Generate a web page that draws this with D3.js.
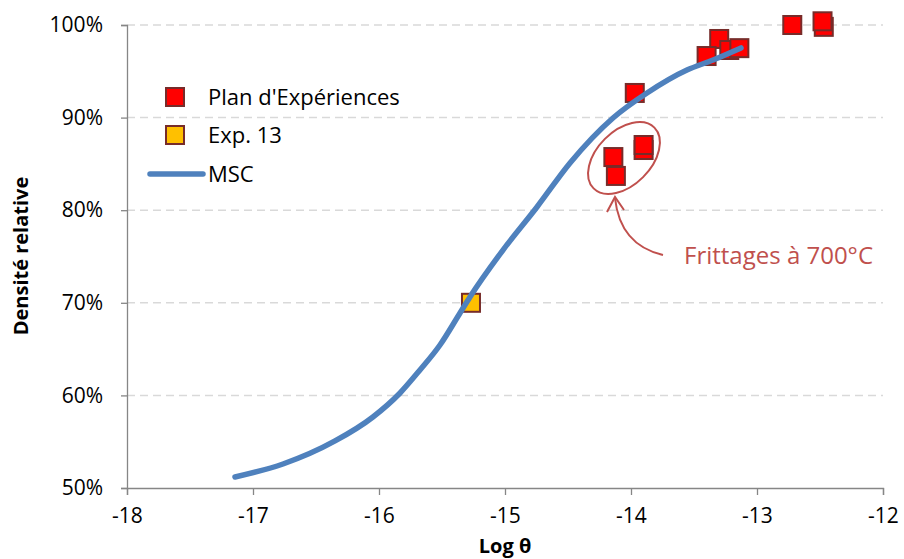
<!DOCTYPE html>
<html><head><meta charset="utf-8">
<script src="https://cdn.jsdelivr.net/npm/d3@7"></script>
<style>body{margin:0;background:#fff;} svg{display:block;font-family:"Open Sans",sans-serif;}</style>
</head><body>
<script>
// Data
const xTicks = [-18, -17, -16, -15, -14, -13, -12];
const yTicks = [0.5, 0.6, 0.7, 0.8, 0.9, 1.0];
const planX = [-13.97, -13.30, -13.40, -13.22, -13.14, -12.72, -12.47, -12.48, -14.14, -14.12, -13.90, -13.90];
const planY = [0.9266, 0.9849, 0.9665, 0.973, 0.975, 1.000, 0.998, 1.004, 0.8574, 0.837, 0.8650, 0.8704];
const exp13X = [-15.27];
const exp13Y = [0.700];
const mscX = [-17.143, -16.762, -16.349, -16.048, -15.833, -15.675, -15.516, -15.357, -15.278, -15.016, -14.746, -14.484, -14.143, -13.873, -13.556, -13.349, -13.127];
const mscY = [0.5119, 0.5259, 0.5508, 0.5767, 0.6026, 0.6274, 0.6544, 0.6890, 0.7063, 0.7570, 0.8035, 0.8510, 0.8996, 0.9266, 0.9514, 0.9622, 0.9752];

const W = 904, H = 559;
const m = {left:127, right:21, top:25, bottom:71};
const svg = d3.select("body").append("svg").attr("width", W).attr("height", H);
const x = d3.scaleLinear().domain([-18, -12]).range([m.left, W - m.right]);
const y = d3.scaleLinear().domain([0.5, 1.0]).range([H - m.bottom, m.top]);

// gridlines
svg.append("g").selectAll("line").data(yTicks.filter(d => d > 0.5)).join("line")
  .attr("x1", x(-18)).attr("x2", x(-12)).attr("y1", d => y(d)).attr("y2", d => y(d))
  .attr("stroke", "#d9d9d9").attr("stroke-width", 1.5).attr("stroke-dasharray", "8,5");

// axes
const xAxis = svg.append("g").attr("transform", `translate(0,${y(0.5)})`)
  .call(d3.axisBottom(x).tickValues(xTicks).tickSize(7).tickPadding(13).tickFormat(d => String(d)));
const yAxis = svg.append("g").attr("transform", `translate(${x(-18)},0)`)
  .call(d3.axisLeft(y).tickValues(yTicks).tickSize(6).tickPadding(18).tickFormat(d3.format(".0%")));
[xAxis, yAxis].forEach(g => {
  g.select(".domain").attr("stroke", "#868686").attr("stroke-width", 1.3);
  g.selectAll(".tick line").attr("stroke", "#868686").attr("stroke-width", 1.3);
  g.selectAll("text").attr("fill", "#000").style("font-size", "21px").style("font-family", "'Open Sans', sans-serif");
});
xAxis.selectAll("text").attr("dy", "0.71em");

// axis titles
svg.append("text").attr("x", x(-15)).attr("y", 553).attr("text-anchor", "middle")
  .style("font-weight", "bold").style("font-size", "20px").text("Log θ");
svg.append("text").attr("transform", `translate(28,256) rotate(-90)`).attr("text-anchor", "middle")
  .style("font-weight", "bold").style("font-size", "20px").text("Densité relative");

const sz = 18;
function squares(xs, ys, fill) {
  svg.append("g").selectAll("rect").data(xs.map((d, i) => [d, ys[i]])).join("rect")
    .attr("x", d => x(d[0]) - sz/2).attr("y", d => y(d[1]) - sz/2)
    .attr("width", sz).attr("height", sz)
    .attr("fill", fill).attr("stroke", "#772c2a").attr("stroke-width", 2);
}
squares(planX, planY, "#ff0000");
squares(exp13X, exp13Y, "#ffc000");

// MSC line
const line = d3.line().x(d => x(d[0])).y(d => y(d[1])).curve(d3.curveMonotoneX);
svg.append("path").datum(mscX.map((d, i) => [d, mscY[i]])).attr("d", line)
  .attr("fill", "none").attr("stroke", "#4f81bd").attr("stroke-width", 5.5).attr("stroke-linecap", "round");

// legend
const lg = svg.append("g");
lg.append("rect").attr("x", 166).attr("y", 88).attr("width", sz).attr("height", sz).attr("fill", "#ff0000").attr("stroke", "#772c2a").attr("stroke-width", 2);
lg.append("rect").attr("x", 166).attr("y", 126).attr("width", sz).attr("height", sz).attr("fill", "#ffc000").attr("stroke", "#772c2a").attr("stroke-width", 2);
lg.append("line").attr("x1", 150).attr("x2", 203).attr("y1", 174).attr("y2", 174).attr("stroke", "#4f81bd").attr("stroke-width", 5.5).attr("stroke-linecap", "round");
[["Plan d'Expériences", 97], ["Exp. 13", 135], ["MSC", 174]].forEach(([t, yy]) => {
  lg.append("text").attr("x", 208).attr("y", yy).attr("dy", "0.35em").style("font-size", "22px").text(t);
});

// annotation
const red = "#c0504d";
svg.append("ellipse").attr("cx", 624).attr("cy", 158).attr("rx", 43).attr("ry", 27)
  .attr("transform", "rotate(-45,624,158)").attr("fill", "none").attr("stroke", red).attr("stroke-width", 2);
svg.append("path").attr("d", "M663,255 Q620,245 615,198").attr("fill", "none").attr("stroke", red).attr("stroke-width", 2);
svg.append("path").attr("d", "M607,212 L615,197 L624,210").attr("fill", "none").attr("stroke", red).attr("stroke-width", 2);
svg.append("text").attr("x", 684).attr("y", 256).attr("dy", "0.35em").attr("fill", red)
  .style("font-size", "24px").text("Frittages à 700°C");
</script>
</body></html>
